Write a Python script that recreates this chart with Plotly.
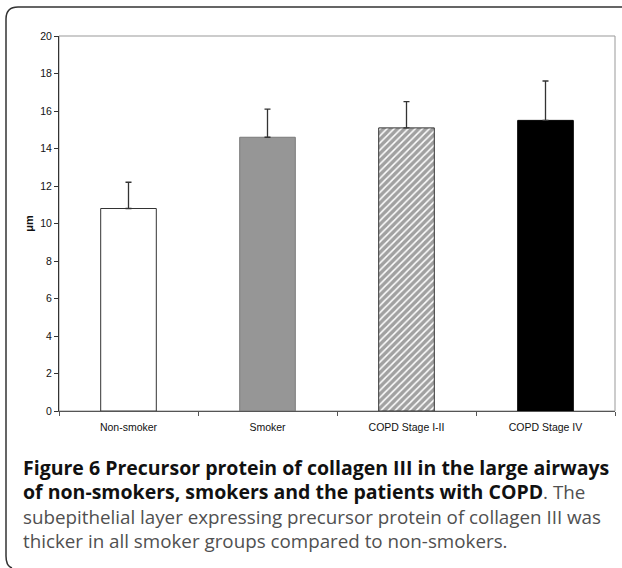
import plotly.graph_objects as go

categories = ["Non-smoker", "Smoker", "COPD Stage I-II", "COPD Stage IV"]
means = [10.8, 14.6, 15.1, 15.5]
errors_up = [1.4, 1.5, 1.4, 2.1]
y_ticks = [0, 2, 4, 6, 8, 10, 12, 14, 16, 18, 20]

fills = ["#ffffff", "#969696", "#ffffff", "#000000"]
outlines = ["#333333", "#7a7a7a", "#333333", "#000000"]
patterns = ["", "", "/", ""]

W, H = 622, 568
L, R, T, B = 59, 7, 36, 157
pw, ph = W - L - R, H - T - B


def px2x(px):
    return (px - L) / pw


def px2y(py):
    return (H - B - py) / ph


fig = go.Figure()
fig.add_trace(go.Bar(
    x=categories,
    y=means,
    width=0.4,
    marker=dict(
        color=fills,
        line=dict(color=outlines, width=1),
        pattern=dict(shape=patterns, fgcolor="#000000", bgcolor="#ffffff",
                     size=5, solidity=0.7),
    ),
    error_y=dict(type="data", symmetric=False, array=errors_up,
                 arrayminus=[0] * len(errors_up),
                 color="#333333", thickness=1.3, width=3),
    showlegend=False,
    hoverinfo="skip",
))

tick_font = dict(family="Liberation Sans Narrow, Arial Narrow, Liberation Sans, Arial",
                 size=10.5, color="#111111")

fig.update_layout(
    width=W, height=H,
    margin=dict(l=L, r=R, t=T, b=B, autoexpand=False),
    paper_bgcolor="#ffffff",
    plot_bgcolor="#ffffff",
    bargap=0.6,
    xaxis=dict(
        type="category",
        showgrid=False,
        showline=True, linecolor="#555555", linewidth=1,
        ticks="outside", ticklen=4, tickcolor="#555555",
        tickson="boundaries",
        tickfont=tick_font,
        ticklabelstandoff=6,
        fixedrange=True,
    ),
    yaxis=dict(
        range=[0, 20],
        tickvals=y_ticks,
        showgrid=False,
        zeroline=False,
        showline=True, linecolor="#333333", linewidth=1,
        ticks="outside", ticklen=4, tickcolor="#333333",
        tickfont=tick_font,
        fixedrange=True,
        title=dict(text="<b>μm</b>", font=dict(family="Liberation Sans, Arial", size=11, color="#111111"),
                   standoff=4),
    ),
    shapes=[
        dict(type="rect", xref="paper", yref="paper", x0=0, y0=0, x1=1, y1=1,
             line=dict(color="#999999", width=1), layer="below"),
        dict(type="path", xref="paper", yref="paper",
             path=(f"M {px2x(622)},{px2y(7)} L {px2x(18)},{px2y(7)} "
                   f"Q {px2x(6)},{px2y(7)} {px2x(6)},{px2y(19)} "
                   f"L {px2x(6)},{px2y(556)} Q {px2x(6)},{px2y(566)} {px2x(12)},{px2y(568)}"),
             line=dict(color="#333333", width=1.5)),
    ],
)

cap_font_family = "Open Sans, Noto Sans, DejaVu Sans"
bold_style = "color:#111111;font-size:19.5px"
norm_c = "#505050"
caption_text = (
    f"<b><span style='{bold_style}'>Figure 6 Precursor protein of collagen III in the large airways</span></b><br>"
    f"<b><span style='{bold_style}'>of non-smokers, smokers and the patients with COPD</span></b>. The<br>"
    "subepithelial layer expressing precursor protein of collagen III was<br>"
    "thicker in all smoker groups compared to non-smokers."
)
fig.add_annotation(
    text=caption_text, xref="paper", yref="paper",
    x=px2x(21), y=px2y(504), xanchor="left", yanchor="middle",
    showarrow=False, align="left",
    font=dict(family=cap_font_family, size=18.8, color=norm_c),
)

fig.write_html("out.html", config={"displayModeBar": False},
               post_script="document.body.style.margin='0';")
